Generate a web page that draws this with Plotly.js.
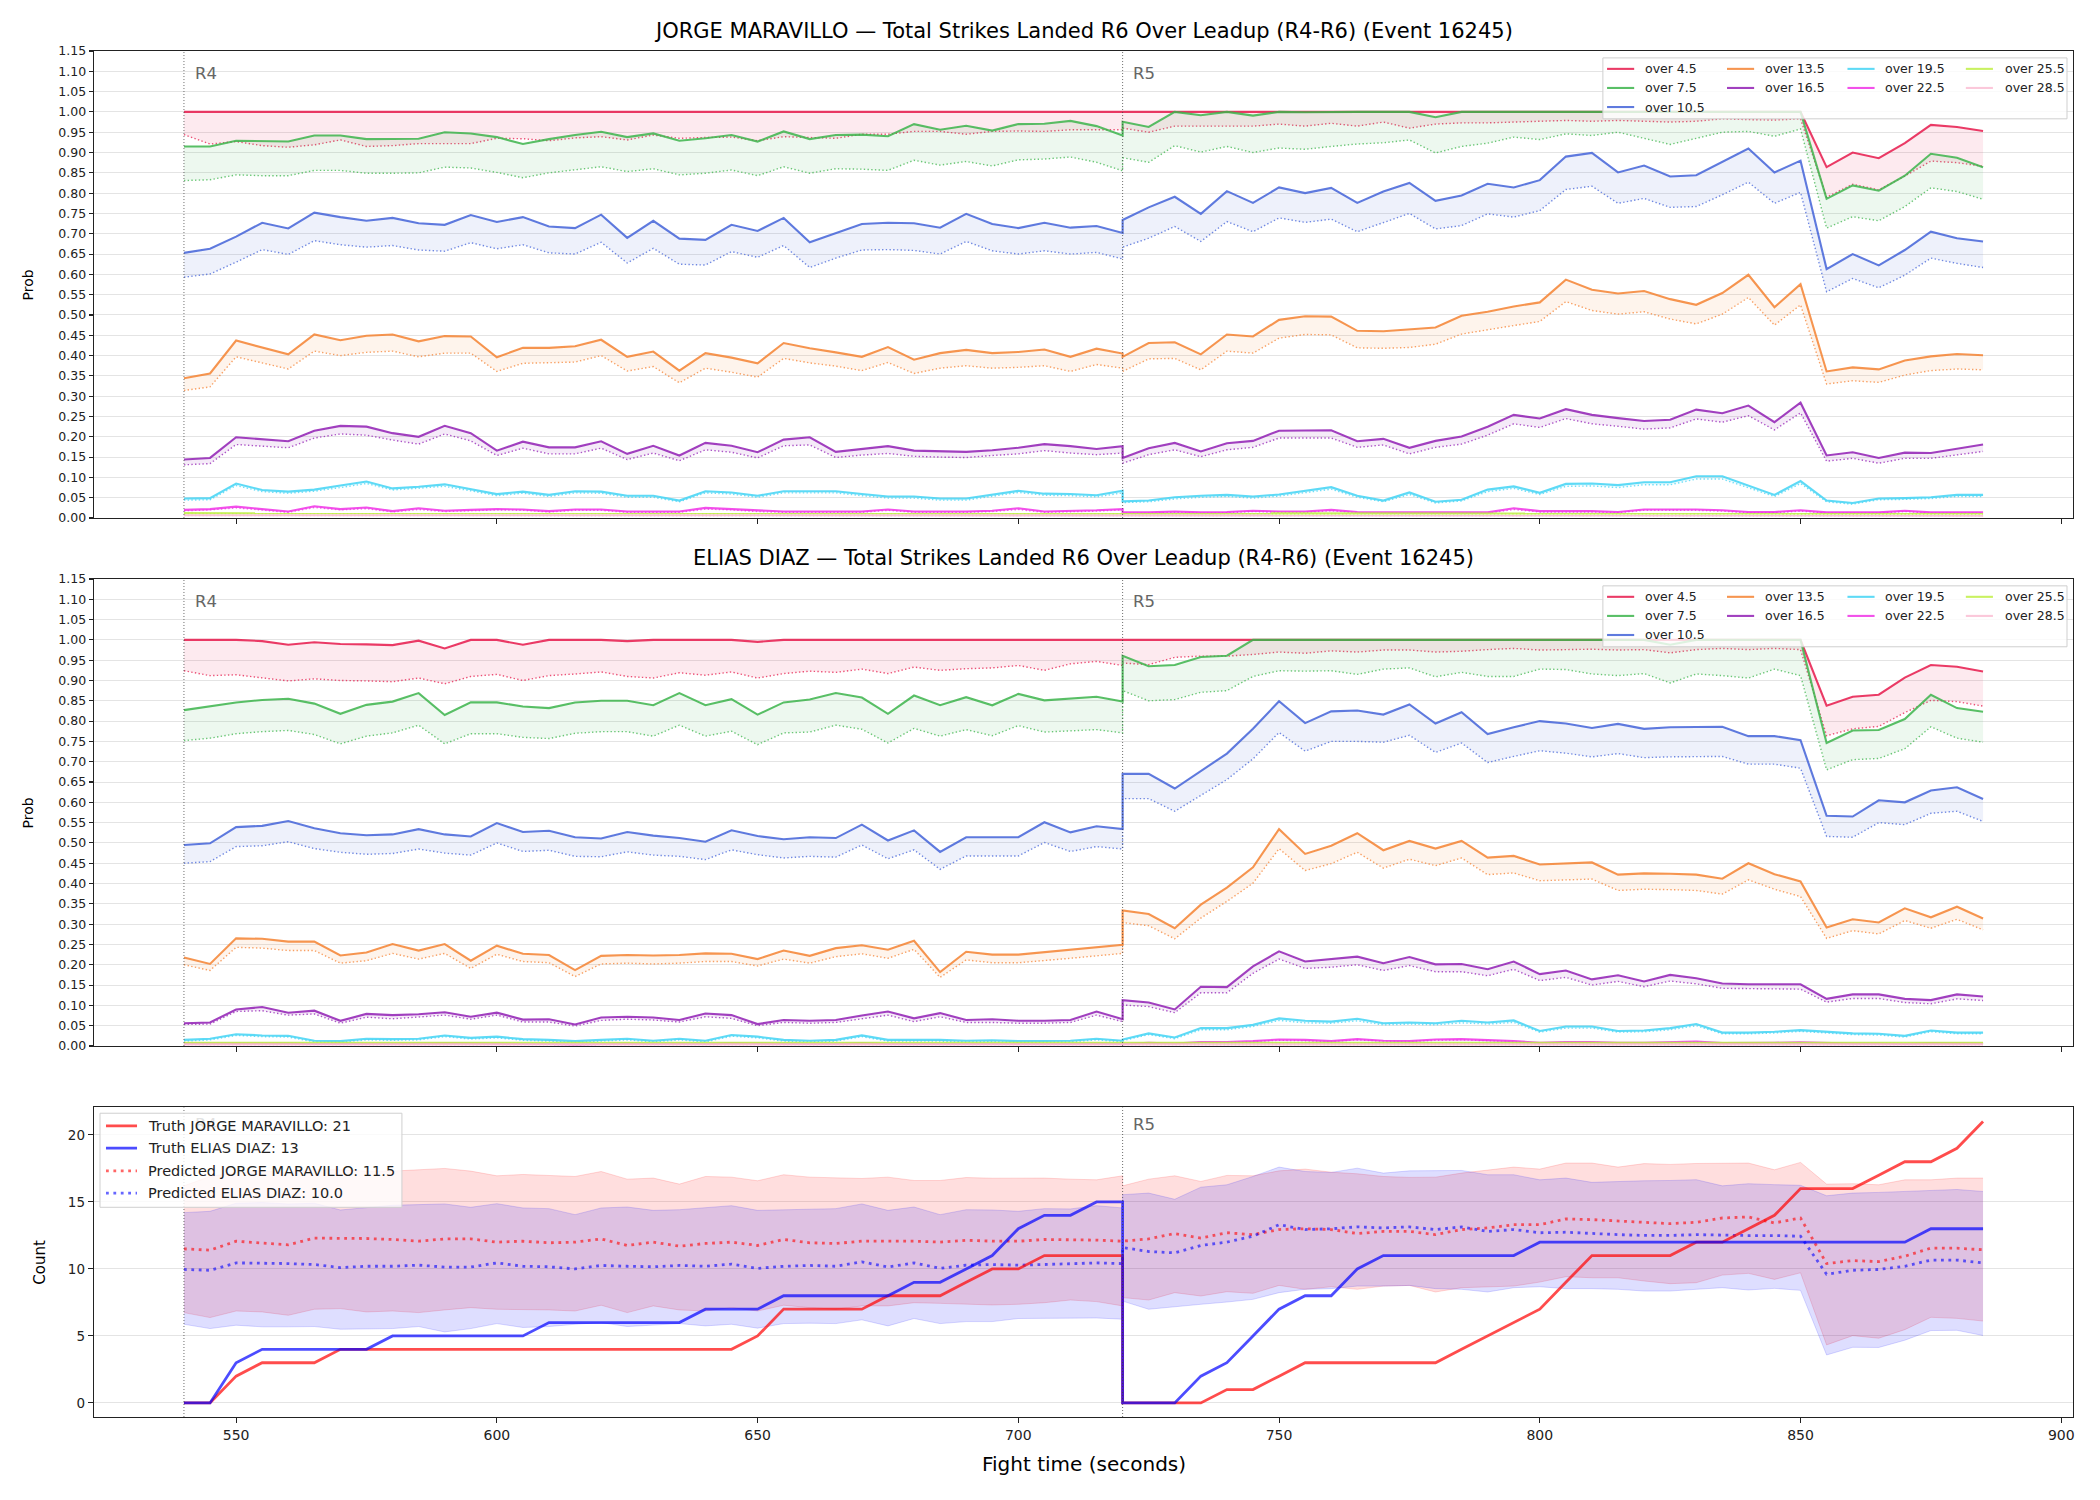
<!DOCTYPE html>
<html>
<head>
<meta charset="utf-8">
<script src="https://cdn.plot.ly/plotly-3.0.1.min.js"></script>
<style>html,body{margin:0;padding:0;background:#fff;}#chart{width:2100px;height:1500px;}</style>
</head>
<body>
<div id="chart"></div>
<script>
// ---------------- DATA ----------------
const times = [540,545,550,555,560,565,570,575,580,585,590,595,600,605,610,615,620,625,630,635,640,645,650,655,660,665,670,675,680,685,690,695,700,705,710,715,720,
  720,725,730,735,740,745,750,755,760,765,770,775,780,785,790,795,800,805,810,815,820,825,830,835,840,845,850,855,860,865,870,875,880,885];
const thresholds = ['over 4.5','over 7.5','over 10.5','over 13.5','over 16.5','over 19.5','over 22.5','over 25.5','over 28.5'];
const probTicks = [0,0.05,0.10,0.15,0.20,0.25,0.30,0.35,0.40,0.45,0.50,0.55,0.60,0.65,0.70,0.75,0.80,0.85,0.90,0.95,1.00,1.05,1.10,1.15];
const timeTicks = [550,600,650,700,750,800,850,900];
const countTicks = [0,5,10,15,20];
const roundMarks = [{t:540,label:'R4'},{t:720,label:'R5'}];

// JORGE MARAVILLO (solid = line, dot = dotted line)
const J_45 = [1,1,1,1,1,1,1,1,1,1,1,1,1,1,1,1,1,1,1,1,1,1,1,1,1,1,1,1,1,1,1,1,1,1,1,1,1,
  1,1,1,1,1,1,1,1,1,1,1,1,1,1,1,1,1,1,1,1,1,1,1,1,1,1,1,0.864,0.900,0.886,0.923,0.968,0.963,0.953];
const J_45_dot = [0.944,0.921,0.927,0.917,0.913,0.919,0.931,0.915,0.917,0.922,0.922,0.922,0.935,0.934,0.929,0.936,0.939,0.931,0.943,0.935,0.937,0.938,0.929,0.939,0.937,0.935,0.945,0.945,0.952,0.952,0.945,0.952,0.953,0.952,0.956,0.956,0.956,
  0.960,0.950,0.965,0.965,0.965,0.965,0.970,0.965,0.972,0.965,0.975,0.960,0.970,0.973,0.973,0.975,0.977,0.979,0.977,0.979,0.977,0.975,0.977,0.983,0.981,0.980,0.983,0.790,0.822,0.808,0.842,0.879,0.875,0.866];
const J_75 = [0.915,0.915,0.929,0.928,0.927,0.942,0.942,0.933,0.933,0.934,0.950,0.947,0.938,0.921,0.933,0.943,0.951,0.938,0.947,0.929,0.935,0.943,0.927,0.952,0.933,0.943,0.944,0.940,0.970,0.956,0.966,0.954,0.970,0.971,0.978,0.965,0.942,
  0.976,0.963,1.0,0.992,1.0,0.991,1.0,0.999,1.0,1.0,1.0,1.0,0.987,1.0,1.0,1.0,1.0,1.0,1.0,1.0,1.0,1.0,1.0,1.0,1.0,1.0,1.0,0.786,0.819,0.806,0.843,0.897,0.887,0.864];
const J_75_dot = [0.831,0.833,0.845,0.843,0.843,0.856,0.856,0.849,0.849,0.850,0.864,0.862,0.851,0.838,0.850,0.857,0.865,0.853,0.860,0.845,0.849,0.857,0.843,0.865,0.849,0.860,0.859,0.856,0.881,0.869,0.878,0.867,0.882,0.884,0.889,0.876,0.855,
  0.887,0.876,0.917,0.901,0.915,0.900,0.911,0.908,0.915,0.921,0.924,0.931,0.899,0.915,0.923,0.938,0.932,0.946,0.942,0.950,0.935,0.920,0.935,0.950,0.952,0.940,0.958,0.714,0.742,0.732,0.767,0.813,0.804,0.785];
const J_105 = [0.653,0.663,0.693,0.727,0.713,0.752,0.741,0.732,0.739,0.726,0.722,0.746,0.729,0.741,0.718,0.714,0.747,0.690,0.732,0.688,0.685,0.722,0.707,0.739,0.679,0.702,0.724,0.727,0.726,0.715,0.749,0.724,0.714,0.727,0.715,0.719,0.702,
  0.734,0.765,0.791,0.749,0.805,0.776,0.814,0.800,0.813,0.776,0.804,0.825,0.781,0.794,0.823,0.814,0.832,0.890,0.899,0.851,0.868,0.841,0.844,0.876,0.910,0.851,0.880,0.613,0.650,0.622,0.660,0.705,0.689,0.681];
const J_105_dot = [0.593,0.601,0.630,0.661,0.649,0.683,0.673,0.667,0.671,0.660,0.657,0.678,0.663,0.673,0.653,0.650,0.679,0.628,0.664,0.625,0.623,0.656,0.642,0.671,0.617,0.640,0.660,0.661,0.659,0.650,0.681,0.658,0.650,0.658,0.650,0.654,0.638,
  0.667,0.689,0.718,0.681,0.730,0.705,0.739,0.728,0.736,0.705,0.727,0.750,0.712,0.720,0.749,0.741,0.757,0.809,0.817,0.775,0.787,0.765,0.767,0.796,0.827,0.775,0.802,0.557,0.590,0.567,0.598,0.640,0.627,0.617];
const J_135 = [0.344,0.356,0.437,0.420,0.403,0.452,0.438,0.449,0.452,0.435,0.448,0.447,0.396,0.419,0.419,0.423,0.439,0.397,0.410,0.363,0.406,0.395,0.381,0.431,0.418,0.408,0.397,0.421,0.390,0.406,0.414,0.406,0.409,0.415,0.397,0.417,0.405,
  0.397,0.431,0.433,0.403,0.452,0.447,0.488,0.497,0.496,0.461,0.460,0.464,0.469,0.498,0.508,0.521,0.531,0.587,0.562,0.553,0.559,0.539,0.525,0.554,0.599,0.519,0.576,0.361,0.371,0.366,0.388,0.398,0.404,0.401];
const J_135_dot = [0.314,0.323,0.397,0.382,0.367,0.411,0.400,0.408,0.411,0.397,0.406,0.406,0.361,0.381,0.382,0.384,0.400,0.362,0.373,0.333,0.369,0.359,0.347,0.393,0.382,0.374,0.363,0.383,0.356,0.369,0.375,0.369,0.371,0.375,0.361,0.378,0.369,
  0.361,0.392,0.393,0.365,0.411,0.406,0.443,0.452,0.451,0.419,0.418,0.420,0.428,0.453,0.464,0.474,0.484,0.533,0.511,0.502,0.508,0.490,0.478,0.502,0.543,0.475,0.525,0.330,0.338,0.334,0.352,0.363,0.367,0.365];
const J_165 = [0.144,0.148,0.199,0.194,0.189,0.215,0.227,0.225,0.209,0.200,0.227,0.209,0.166,0.188,0.174,0.174,0.189,0.158,0.178,0.154,0.185,0.178,0.162,0.193,0.199,0.163,0.170,0.177,0.166,0.164,0.163,0.167,0.173,0.182,0.177,0.170,0.177,
  0.148,0.172,0.185,0.164,0.184,0.190,0.215,0.215,0.216,0.189,0.195,0.173,0.190,0.201,0.225,0.254,0.245,0.268,0.254,0.246,0.239,0.242,0.267,0.258,0.277,0.236,0.284,0.154,0.162,0.148,0.161,0.160,0.170,0.181];
const J_165_dot = [0.131,0.134,0.181,0.177,0.173,0.197,0.207,0.204,0.192,0.182,0.207,0.190,0.154,0.172,0.158,0.158,0.172,0.144,0.160,0.141,0.168,0.162,0.148,0.178,0.180,0.149,0.155,0.159,0.152,0.150,0.149,0.154,0.158,0.166,0.160,0.156,0.160,
  0.135,0.156,0.168,0.151,0.168,0.174,0.197,0.197,0.197,0.174,0.180,0.158,0.174,0.182,0.204,0.232,0.223,0.245,0.232,0.226,0.219,0.222,0.244,0.236,0.252,0.217,0.259,0.140,0.147,0.135,0.147,0.147,0.155,0.164];
const J_195 = [0.048,0.049,0.085,0.069,0.065,0.070,0.080,0.090,0.073,0.077,0.083,0.071,0.059,0.065,0.057,0.066,0.065,0.055,0.055,0.043,0.066,0.063,0.055,0.066,0.066,0.066,0.059,0.053,0.053,0.048,0.048,0.057,0.067,0.060,0.059,0.056,0.067,
  0.041,0.043,0.051,0.055,0.057,0.053,0.058,0.067,0.076,0.055,0.043,0.063,0.040,0.045,0.070,0.078,0.062,0.084,0.085,0.081,0.088,0.088,0.103,0.103,0.080,0.057,0.091,0.043,0.037,0.048,0.049,0.051,0.057,0.057];
const J_195_dot = [0.044,0.045,0.080,0.065,0.061,0.066,0.075,0.085,0.069,0.073,0.078,0.067,0.055,0.061,0.053,0.062,0.061,0.051,0.051,0.040,0.062,0.059,0.051,0.062,0.062,0.062,0.055,0.049,0.049,0.044,0.044,0.053,0.063,0.056,0.055,0.052,0.062,
  0.038,0.040,0.047,0.051,0.053,0.049,0.054,0.062,0.071,0.051,0.040,0.058,0.037,0.042,0.065,0.073,0.058,0.078,0.079,0.075,0.082,0.082,0.096,0.096,0.075,0.053,0.085,0.040,0.034,0.045,0.046,0.048,0.053,0.053];
const J_225 = [0.020,0.022,0.028,0.022,0.016,0.029,0.022,0.026,0.017,0.024,0.018,0.020,0.022,0.021,0.017,0.021,0.021,0.016,0.016,0.016,0.025,0.022,0.018,0.016,0.016,0.016,0.016,0.021,0.016,0.016,0.016,0.018,0.024,0.016,0.017,0.019,0.022,
  0.014,0.014,0.016,0.014,0.015,0.018,0.016,0.016,0.020,0.015,0.014,0.014,0.014,0.014,0.014,0.024,0.017,0.017,0.017,0.015,0.021,0.021,0.021,0.019,0.015,0.015,0.019,0.014,0.014,0.014,0.018,0.014,0.014,0.014];
const J_225_dot = [0.018,0.020,0.025,0.020,0.014,0.026,0.020,0.023,0.015,0.021,0.016,0.018,0.020,0.019,0.015,0.019,0.019,0.014,0.014,0.014,0.022,0.020,0.016,0.014,0.014,0.014,0.014,0.019,0.014,0.014,0.014,0.016,0.021,0.014,0.015,0.017,0.020,
  0.012,0.012,0.014,0.012,0.013,0.016,0.014,0.014,0.018,0.013,0.012,0.012,0.012,0.012,0.012,0.021,0.015,0.015,0.015,0.013,0.019,0.019,0.019,0.017,0.013,0.013,0.017,0.012,0.012,0.012,0.016,0.012,0.012,0.012];
const J_255 = [0.012,0.012,0.012,0.012,0.012,0.012,0.012,0.012,0.012,0.012,0.012,0.012,0.012,0.012,0.012,0.012,0.012,0.012,0.012,0.012,0.012,0.012,0.012,0.012,0.012,0.012,0.012,0.012,0.012,0.012,0.012,0.012,0.012,0.012,0.012,0.012,0.012,
  0.011,0.011,0.011,0.011,0.011,0.011,0.011,0.011,0.011,0.011,0.011,0.011,0.011,0.011,0.011,0.011,0.011,0.011,0.011,0.011,0.011,0.011,0.011,0.011,0.011,0.011,0.011,0.011,0.011,0.011,0.011,0.011,0.011,0.011];
const J_255_dot = [0.011,0.011,0.011,0.011,0.011,0.011,0.011,0.011,0.011,0.011,0.011,0.011,0.011,0.011,0.011,0.011,0.011,0.011,0.011,0.011,0.011,0.011,0.011,0.011,0.011,0.011,0.011,0.011,0.011,0.011,0.011,0.011,0.011,0.011,0.011,0.011,0.011,
  0.010,0.010,0.010,0.010,0.010,0.010,0.010,0.010,0.010,0.010,0.010,0.010,0.010,0.010,0.010,0.010,0.010,0.010,0.010,0.010,0.010,0.010,0.010,0.010,0.010,0.010,0.010,0.010,0.010,0.010,0.010,0.010,0.010,0.010];
const J_285 = [0.007,0.007,0.007,0.007,0.007,0.007,0.007,0.007,0.007,0.007,0.007,0.007,0.007,0.007,0.007,0.007,0.007,0.007,0.007,0.007,0.007,0.007,0.007,0.007,0.007,0.007,0.007,0.007,0.007,0.007,0.007,0.007,0.007,0.007,0.007,0.007,0.007,
  0.006,0.006,0.006,0.006,0.006,0.006,0.006,0.006,0.006,0.006,0.006,0.006,0.006,0.006,0.006,0.006,0.006,0.006,0.006,0.006,0.006,0.006,0.006,0.006,0.006,0.006,0.006,0.006,0.006,0.006,0.006,0.006,0.006,0.006];
const J_285_dot = [0.006,0.006,0.006,0.006,0.006,0.006,0.006,0.006,0.006,0.006,0.006,0.006,0.006,0.006,0.006,0.006,0.006,0.006,0.006,0.006,0.006,0.006,0.006,0.006,0.006,0.006,0.006,0.006,0.006,0.006,0.006,0.006,0.006,0.006,0.006,0.006,0.006,
  0.005,0.005,0.005,0.005,0.005,0.005,0.005,0.005,0.005,0.005,0.005,0.005,0.005,0.005,0.005,0.005,0.005,0.005,0.005,0.005,0.005,0.005,0.005,0.005,0.005,0.005,0.005,0.005,0.005,0.005,0.005,0.005,0.005,0.005];

// ELIAS DIAZ
const E_45 = [1.0,1.0,1.0,0.997,0.988,0.994,0.990,0.989,0.987,0.998,0.979,1.0,1.0,0.988,1.0,1.0,1.0,0.997,1.0,1.0,1.0,1.0,0.995,1.0,1.0,1.0,1.0,1.0,1.0,1.0,1.0,1.0,1.0,1.0,1.0,1.0,1.0,
  1,1,1,1,1,1,1,1,1,1,1,1,1,1,1,1,1,1,1,1,1,1,1,1,1,1,1,0.838,0.860,0.865,0.907,0.938,0.934,0.922];
const E_45_dot = [0.924,0.912,0.914,0.906,0.899,0.904,0.900,0.899,0.897,0.906,0.892,0.910,0.915,0.900,0.912,0.916,0.921,0.910,0.906,0.919,0.913,0.921,0.906,0.917,0.923,0.920,0.928,0.917,0.933,0.925,0.929,0.931,0.937,0.925,0.941,0.947,0.937,
  0.943,0.939,0.957,0.960,0.960,0.964,0.970,0.967,0.973,0.970,0.975,0.975,0.970,0.972,0.976,0.979,0.975,0.976,0.977,0.975,0.976,0.968,0.976,0.979,0.976,0.979,0.976,0.764,0.781,0.787,0.821,0.851,0.848,0.837];
const E_75 = [0.827,0.836,0.846,0.852,0.855,0.843,0.818,0.840,0.848,0.869,0.815,0.846,0.846,0.836,0.832,0.846,0.850,0.850,0.839,0.869,0.839,0.854,0.816,0.846,0.853,0.869,0.858,0.818,0.863,0.839,0.859,0.839,0.867,0.851,0.855,0.860,0.848,
  0.961,0.935,0.938,0.958,0.961,1.0,1.0,1.0,1.0,1.0,1.0,1.0,1.0,1.0,1.0,1.0,1.0,1.0,1.0,1.0,1.0,0.988,1.0,1.0,1.0,1.0,1.0,0.746,0.777,0.778,0.805,0.865,0.832,0.823];
const E_75_dot = [0.752,0.758,0.769,0.774,0.777,0.767,0.744,0.763,0.771,0.790,0.744,0.769,0.769,0.760,0.757,0.770,0.774,0.774,0.763,0.790,0.763,0.775,0.742,0.771,0.773,0.790,0.780,0.746,0.782,0.763,0.779,0.764,0.789,0.773,0.776,0.779,0.771,
  0.875,0.850,0.853,0.871,0.875,0.910,0.924,0.923,0.924,0.915,0.928,0.931,0.909,0.920,0.910,0.910,0.928,0.927,0.916,0.912,0.917,0.894,0.916,0.912,0.906,0.928,0.912,0.680,0.705,0.708,0.732,0.786,0.758,0.748];
const E_105 = [0.495,0.499,0.539,0.542,0.554,0.536,0.524,0.519,0.521,0.534,0.521,0.516,0.549,0.527,0.530,0.514,0.511,0.527,0.518,0.512,0.503,0.531,0.517,0.509,0.514,0.512,0.545,0.506,0.531,0.478,0.514,0.514,0.514,0.551,0.526,0.541,0.534,
  0.670,0.670,0.634,0.678,0.720,0.781,0.849,0.795,0.824,0.826,0.816,0.841,0.794,0.822,0.768,0.785,0.800,0.794,0.783,0.793,0.781,0.785,0.785,0.786,0.763,0.763,0.753,0.567,0.565,0.605,0.600,0.629,0.637,0.608];
const E_105_dot = [0.450,0.454,0.491,0.493,0.503,0.486,0.477,0.472,0.474,0.485,0.475,0.470,0.500,0.479,0.482,0.467,0.466,0.478,0.470,0.467,0.459,0.483,0.471,0.463,0.467,0.465,0.495,0.461,0.483,0.435,0.468,0.468,0.468,0.501,0.479,0.491,0.485,
  0.609,0.609,0.578,0.616,0.656,0.707,0.772,0.726,0.750,0.750,0.748,0.765,0.723,0.746,0.698,0.713,0.727,0.721,0.712,0.720,0.710,0.712,0.713,0.713,0.694,0.694,0.684,0.516,0.514,0.550,0.545,0.573,0.578,0.553];
const E_135 = [0.218,0.202,0.265,0.264,0.257,0.257,0.223,0.230,0.251,0.235,0.251,0.210,0.247,0.227,0.224,0.187,0.222,0.224,0.223,0.224,0.228,0.227,0.214,0.235,0.222,0.241,0.248,0.237,0.259,0.182,0.232,0.225,0.225,0.231,0.237,0.243,0.249,
  0.334,0.325,0.290,0.348,0.390,0.440,0.534,0.473,0.493,0.524,0.482,0.505,0.486,0.505,0.464,0.468,0.447,0.449,0.452,0.422,0.425,0.424,0.422,0.412,0.450,0.423,0.405,0.292,0.312,0.304,0.339,0.317,0.343,0.314];
const E_135_dot = [0.200,0.186,0.243,0.241,0.235,0.235,0.204,0.210,0.228,0.214,0.228,0.191,0.226,0.208,0.205,0.171,0.202,0.204,0.202,0.204,0.208,0.208,0.197,0.214,0.204,0.220,0.227,0.216,0.238,0.169,0.212,0.205,0.205,0.210,0.216,0.222,0.228,
  0.304,0.296,0.264,0.315,0.356,0.401,0.486,0.432,0.449,0.477,0.438,0.460,0.444,0.463,0.422,0.426,0.407,0.409,0.411,0.383,0.386,0.385,0.383,0.374,0.409,0.386,0.368,0.265,0.284,0.276,0.309,0.290,0.312,0.286];
const E_165 = [0.056,0.058,0.090,0.096,0.082,0.087,0.062,0.079,0.076,0.078,0.083,0.072,0.082,0.065,0.066,0.053,0.070,0.072,0.070,0.064,0.080,0.076,0.054,0.064,0.062,0.064,0.075,0.085,0.068,0.081,0.064,0.066,0.062,0.062,0.064,0.085,0.066,
  0.113,0.107,0.090,0.146,0.145,0.196,0.233,0.208,0.214,0.220,0.204,0.219,0.201,0.202,0.189,0.208,0.177,0.186,0.164,0.174,0.159,0.175,0.167,0.154,0.152,0.152,0.152,0.116,0.127,0.127,0.116,0.113,0.127,0.122];
const E_165_dot = [0.053,0.054,0.085,0.087,0.076,0.079,0.056,0.071,0.067,0.071,0.076,0.066,0.076,0.059,0.059,0.049,0.063,0.066,0.064,0.059,0.072,0.068,0.050,0.058,0.056,0.058,0.067,0.076,0.060,0.072,0.058,0.058,0.056,0.056,0.058,0.076,0.060,
  0.101,0.097,0.082,0.131,0.131,0.179,0.214,0.191,0.194,0.200,0.186,0.198,0.183,0.183,0.173,0.189,0.161,0.169,0.150,0.159,0.146,0.160,0.153,0.142,0.141,0.141,0.140,0.108,0.117,0.117,0.107,0.104,0.116,0.112];
const E_195 = [0.015,0.018,0.029,0.026,0.025,0.013,0.012,0.018,0.017,0.018,0.026,0.020,0.023,0.017,0.015,0.012,0.015,0.018,0.013,0.018,0.013,0.027,0.023,0.015,0.013,0.015,0.026,0.015,0.015,0.015,0.013,0.014,0.012,0.012,0.013,0.018,0.013,
  0.016,0.031,0.021,0.044,0.044,0.052,0.068,0.062,0.060,0.067,0.056,0.058,0.056,0.062,0.058,0.063,0.037,0.048,0.048,0.037,0.038,0.044,0.054,0.033,0.033,0.035,0.039,0.035,0.031,0.030,0.025,0.038,0.033,0.033];
const E_195_dot = [0.012,0.015,0.026,0.023,0.022,0.010,0.009,0.015,0.014,0.015,0.023,0.017,0.020,0.014,0.012,0.009,0.012,0.015,0.010,0.015,0.010,0.024,0.020,0.012,0.010,0.012,0.023,0.012,0.012,0.012,0.010,0.011,0.009,0.009,0.010,0.015,0.010,
  0.013,0.028,0.018,0.040,0.040,0.048,0.063,0.057,0.056,0.062,0.052,0.054,0.052,0.057,0.054,0.058,0.034,0.044,0.044,0.034,0.035,0.040,0.050,0.030,0.030,0.032,0.036,0.032,0.028,0.027,0.022,0.035,0.030,0.030];
const E_225 = [0.006,0.006,0.007,0.007,0.006,0.005,0.005,0.006,0.006,0.006,0.007,0.006,0.006,0.005,0.005,0.004,0.005,0.006,0.005,0.006,0.005,0.007,0.006,0.005,0.005,0.005,0.007,0.005,0.005,0.005,0.005,0.005,0.004,0.004,0.005,0.006,0.005,
  0.005,0.008,0.006,0.010,0.010,0.012,0.016,0.015,0.012,0.017,0.013,0.012,0.016,0.017,0.015,0.012,0.008,0.010,0.010,0.008,0.008,0.010,0.011,0.007,0.007,0.008,0.009,0.007,0.006,0.006,0.005,0.007,0.006,0.006];
const E_225_dot = [0.005,0.005,0.006,0.006,0.005,0.004,0.004,0.005,0.005,0.005,0.006,0.005,0.005,0.004,0.004,0.003,0.004,0.005,0.004,0.005,0.004,0.006,0.005,0.004,0.004,0.004,0.006,0.004,0.004,0.004,0.004,0.004,0.003,0.003,0.004,0.005,0.004,
  0.004,0.007,0.005,0.009,0.009,0.011,0.014,0.013,0.011,0.015,0.012,0.011,0.014,0.015,0.013,0.011,0.007,0.009,0.009,0.007,0.007,0.009,0.010,0.006,0.006,0.007,0.008,0.006,0.005,0.005,0.004,0.006,0.005,0.005];
const E_255 = [0.008,0.008,0.008,0.008,0.008,0.008,0.008,0.008,0.008,0.008,0.008,0.008,0.008,0.008,0.008,0.008,0.008,0.008,0.008,0.008,0.008,0.008,0.008,0.008,0.008,0.008,0.008,0.008,0.008,0.008,0.008,0.008,0.008,0.008,0.008,0.008,0.008,
  0.008,0.008,0.008,0.008,0.008,0.008,0.008,0.008,0.008,0.008,0.008,0.008,0.008,0.008,0.008,0.008,0.008,0.008,0.008,0.008,0.008,0.008,0.008,0.008,0.008,0.008,0.008,0.008,0.008,0.008,0.008,0.008,0.008,0.008];
const E_255_dot = [0.007,0.007,0.007,0.007,0.007,0.007,0.007,0.007,0.007,0.007,0.007,0.007,0.007,0.007,0.007,0.007,0.007,0.007,0.007,0.007,0.007,0.007,0.007,0.007,0.007,0.007,0.007,0.007,0.007,0.007,0.007,0.007,0.007,0.007,0.007,0.007,0.007,
  0.007,0.007,0.007,0.007,0.007,0.007,0.007,0.007,0.007,0.007,0.007,0.007,0.007,0.007,0.007,0.007,0.007,0.007,0.007,0.007,0.007,0.007,0.007,0.007,0.007,0.007,0.007,0.007,0.007,0.007,0.007,0.007,0.007,0.007];
const E_285 = [0.004,0.004,0.004,0.004,0.004,0.004,0.004,0.004,0.004,0.004,0.004,0.004,0.004,0.004,0.004,0.004,0.004,0.004,0.004,0.004,0.004,0.004,0.004,0.004,0.004,0.004,0.004,0.004,0.004,0.004,0.004,0.004,0.004,0.004,0.004,0.004,0.004,
  0.004,0.004,0.004,0.004,0.004,0.004,0.004,0.004,0.004,0.004,0.004,0.004,0.004,0.004,0.004,0.004,0.004,0.004,0.004,0.004,0.004,0.004,0.004,0.004,0.004,0.004,0.004,0.004,0.004,0.004,0.004,0.004,0.004,0.004];
const E_285_dot = [0.003,0.003,0.003,0.003,0.003,0.003,0.003,0.003,0.003,0.003,0.003,0.003,0.003,0.003,0.003,0.003,0.003,0.003,0.003,0.003,0.003,0.003,0.003,0.003,0.003,0.003,0.003,0.003,0.003,0.003,0.003,0.003,0.003,0.003,0.003,0.003,0.003,
  0.003,0.003,0.003,0.003,0.003,0.003,0.003,0.003,0.003,0.003,0.003,0.003,0.003,0.003,0.003,0.003,0.003,0.003,0.003,0.003,0.003,0.003,0.003,0.003,0.003,0.003,0.003,0.003,0.003,0.003,0.003,0.003,0.003,0.003];

// Count panel
const truthJorge = [0,0,2,3,3,3,4,4,4,4,4,4,4,4,4,4,4,4,4,4,4,4,5,7,7,7,7,8,8,8,9,10,10,11,11,11,11,
  0,0,0,0,1,1,2,3,3,3,3,3,3,4,5,6,7,9,11,11,11,11,12,12,13,14,16,16,16,17,18,18,19,21];
const truthElias = [0,0,3,4,4,4,4,4,5,5,5,5,5,5,6,6,6,6,6,6,7,7,7,8,8,8,8,8,9,9,10,11,13,14,14,15,15,
  0,0,0,2,3,5,7,8,8,10,11,11,11,11,11,11,12,12,12,12,12,12,12,12,12,12,12,12,12,12,12,13,13,13];
const predJorge = [11.5,11.4,12.07,11.95,11.8,12.3,12.3,12.27,12.2,12.07,12.24,12.24,12.0,12.07,11.95,12.0,12.24,11.75,12.0,11.7,11.9,12.0,11.75,12.2,11.95,11.9,12.07,12.07,12.07,12.0,12.14,12.07,12.07,12.2,12.2,12.15,12.07,
  12.07,12.24,12.64,12.3,12.7,12.56,12.94,13.0,12.94,12.64,12.8,12.8,12.56,12.94,13.06,13.3,13.3,13.73,13.68,13.56,13.48,13.38,13.48,13.8,13.88,13.43,13.8,10.4,10.62,10.55,10.95,11.55,11.55,11.43];
const predElias = [9.96,9.9,10.45,10.45,10.4,10.33,10.1,10.2,10.2,10.28,10.14,10.14,10.45,10.2,10.16,10.0,10.26,10.2,10.16,10.26,10.2,10.36,10.04,10.2,10.26,10.2,10.53,10.14,10.45,10.04,10.28,10.33,10.28,10.33,10.4,10.45,10.4,
  11.6,11.3,11.2,11.75,12.0,12.44,13.3,12.94,13.0,13.14,13.06,13.14,12.94,13.14,12.8,12.94,12.7,12.74,12.64,12.56,12.5,12.5,12.56,12.5,12.49,12.49,12.44,9.6,9.9,9.96,10.2,10.66,10.66,10.45];
const bandJorgeHi = [16.2,16.9,17.2,17.3,17.2,17.4,17.4,17.3,17.3,17.4,17.5,17.3,16.95,17.05,16.95,16.9,17.27,16.7,16.78,16.33,16.9,16.85,16.58,17.03,16.85,16.8,16.75,16.85,16.6,16.6,16.82,16.77,16.78,16.78,16.7,16.65,16.95,
  16.2,16.7,16.95,16.53,16.98,16.95,17.32,17.45,17.22,17.1,16.9,16.83,16.85,17.15,17.4,17.6,17.45,17.9,17.9,17.6,17.86,17.8,17.87,17.9,17.9,17.4,17.95,16.33,16.36,16.28,16.65,16.65,16.78,16.78];
const bandJorgeLo = [6.74,6.37,6.86,6.79,6.54,6.99,7.04,6.79,6.86,6.74,6.94,7.11,6.99,6.99,6.94,6.86,7.29,6.74,7.24,6.94,6.86,7.11,6.86,7.29,7.11,6.99,7.24,7.24,7.48,7.43,7.36,7.31,7.36,7.48,7.68,7.56,7.24,
  7.86,7.68,8.23,7.98,8.3,8.18,8.77,8.48,8.67,8.48,8.72,8.77,8.28,8.6,8.67,8.72,9.02,9.42,9.34,9.34,9.1,8.9,8.97,9.54,9.67,9.22,9.71,4.33,5.02,4.83,5.47,6.39,6.31,6.11];
const bandEliasHi = [14.2,14.3,14.9,14.95,14.85,14.9,14.4,14.6,14.75,14.8,14.85,14.6,14.87,14.55,14.5,14.05,14.55,14.62,14.37,14.42,14.55,14.72,14.37,14.42,14.42,14.5,14.85,14.37,14.62,14.05,14.42,14.4,14.3,14.5,14.48,14.72,14.55,
  15.54,15.66,15.2,16.1,16.28,16.9,17.6,17.27,17.2,17.52,17.15,17.32,17.32,17.35,17.03,17.03,16.65,16.78,16.46,16.53,16.58,16.6,16.66,16.2,16.36,16.29,16.24,15.46,15.66,15.71,15.8,15.85,15.93,15.78];
const bandEliasLo = [5.87,5.55,5.8,5.68,5.68,5.7,5.5,5.5,5.55,5.7,5.3,5.55,5.92,5.63,5.7,5.87,6.0,5.7,5.8,5.92,5.75,5.87,5.58,5.92,5.95,5.92,6.2,5.75,6.3,5.92,6.07,6.07,6.3,6.3,6.34,6.34,6.25,
  7.6,6.99,7.19,7.36,7.53,7.73,8.23,8.48,8.53,8.72,8.72,8.77,8.53,8.48,8.28,8.6,8.67,8.53,8.53,8.48,8.35,8.35,8.48,8.6,8.43,8.55,8.4,3.58,4.15,4.14,4.68,5.4,5.42,5.03];

const legendLabels = ['Truth JORGE MARAVILLO: 21','Truth ELIAS DIAZ: 13','Predicted JORGE MARAVILLO: 11.5','Predicted ELIAS DIAZ: 10.0'];
const titleJorge = 'JORGE MARAVILLO — Total Strikes Landed R6 Over Leadup (R4-R6) (Event 16245)';
const titleElias = 'ELIAS DIAZ — Total Strikes Landed R6 Over Leadup (R4-R6) (Event 16245)';

// ---------------- DRAWING ----------------
const lineColors = ['#e6194b','#3cb44b','#4363d8','#f58231','#911eb4','#42d4f4','#f032e6','#bfef45','#fabed4'];
function rgba(hex, a){
  const n = parseInt(hex.slice(1),16);
  return 'rgba(' + ((n>>16)&255) + ',' + ((n>>8)&255) + ',' + (n&255) + ',' + a + ')';
}
const jorgeSolid = [J_45,J_75,J_105,J_135,J_165,J_195,J_225,J_255,J_285];
const jorgeDot = [J_45_dot,J_75_dot,J_105_dot,J_135_dot,J_165_dot,J_195_dot,J_225_dot,J_255_dot,J_285_dot];
const eliasSolid = [E_45,E_75,E_105,E_135,E_165,E_195,E_225,E_255,E_285];
const eliasDot = [E_45_dot,E_75_dot,E_105_dot,E_135_dot,E_165_dot,E_195_dot,E_225_dot,E_255_dot,E_285_dot];

const traces = [];
function addProbPanel(solids, dots, xa, ya){
  for(let i=0;i<thresholds.length;i++){
    const c = lineColors[i];
    traces.push({x: times, y: dots[i], xaxis: xa, yaxis: ya, mode: 'lines', showlegend: false, hoverinfo: 'skip',
      line: {color: rgba(c,0.75), width: 1.4, dash: '1.4px,2.3px'}});
    traces.push({x: times, y: solids[i], xaxis: xa, yaxis: ya, mode: 'lines', showlegend: false, name: thresholds[i],
      fill: 'tonexty', fillcolor: rgba(c,0.09), line: {color: rgba(c,0.85), width: 2.1}});
  }
}
addProbPanel(jorgeSolid, jorgeDot, 'x', 'y');
addProbPanel(eliasSolid, eliasDot, 'x2', 'y2');

// count panel
traces.push({x: times, y: bandJorgeLo, xaxis:'x3', yaxis:'y3', mode:'lines', showlegend:false, hoverinfo:'skip', line:{color:'rgba(255,0,0,0.15)', width:1}});
traces.push({x: times, y: bandJorgeHi, xaxis:'x3', yaxis:'y3', mode:'lines', showlegend:false, hoverinfo:'skip', fill:'tonexty', fillcolor:'rgba(255,0,0,0.13)', line:{color:'rgba(255,0,0,0.15)', width:1}});
traces.push({x: times, y: bandEliasLo, xaxis:'x3', yaxis:'y3', mode:'lines', showlegend:false, hoverinfo:'skip', line:{color:'rgba(0,0,255,0.15)', width:1}});
traces.push({x: times, y: bandEliasHi, xaxis:'x3', yaxis:'y3', mode:'lines', showlegend:false, hoverinfo:'skip', fill:'tonexty', fillcolor:'rgba(0,0,255,0.13)', line:{color:'rgba(0,0,255,0.15)', width:1}});
traces.push({x: times, y: predJorge, xaxis:'x3', yaxis:'y3', mode:'lines', showlegend:false, line:{color:'rgba(255,0,0,0.6)', width:2.8, dash:'2.8px,4.6px'}});
traces.push({x: times, y: predElias, xaxis:'x3', yaxis:'y3', mode:'lines', showlegend:false, line:{color:'rgba(0,0,255,0.6)', width:2.8, dash:'2.8px,4.6px'}});
traces.push({x: times, y: truthJorge, xaxis:'x3', yaxis:'y3', mode:'lines', showlegend:false, line:{color:'rgba(255,0,0,0.7)', width:2.8}});
traces.push({x: times, y: truthElias, xaxis:'x3', yaxis:'y3', mode:'lines', showlegend:false, line:{color:'rgba(0,0,255,0.7)', width:2.8}});

const FONT = 'DejaVu Sans, sans-serif';
const shapes = [];
const annotations = [];

// round separators
[['x','y'],['x2','y2'],['x3','y3']].forEach(function(ax){
  roundMarks.forEach(function(r){
    shapes.push({type:'line', xref: ax[0], yref: ax[1]+' domain', x0:r.t, x1:r.t, y0:0, y1:1, layer:'above',
      line:{color:'rgba(60,60,60,0.75)', width:1, dash:'1px,2px'}});
  });
});
// round labels
[['x','y',1.094],['x2','y2',1.094]].forEach(function(ax){
  roundMarks.forEach(function(r){
    annotations.push({xref:ax[0], yref:ax[1], x:r.t+1.7, y:ax[2], text:r.label, showarrow:false, xanchor:'left', yanchor:'middle',
      font:{family:FONT, size:16.5, color:'#666'}});
  });
});
annotations.push({xref:'x3', yref:'y3', x:720+1.7, y:20.8, text:'R5', showarrow:false, xanchor:'left', yanchor:'middle', font:{family:FONT, size:16.5, color:'#666'}});
annotations.push({xref:'x3', yref:'y3', x:540+1.7, y:20.8, text:'R4', showarrow:false, xanchor:'left', yanchor:'middle', font:{family:FONT, size:16.5, color:'rgba(102,102,102,0.2)'}});

// threshold legends (4 columns, filled column-wise)
const legCols = [[0,1,2],[3,4],[5,6],[7,8]];
const legColX = [[812.9,818.1,819.8],[835.9,841.1,842.8],[859.0,864.2,865.8],[881.7,886.9,888.8]];
const legRowY = [1.106,1.059,1.012];
[['x','y'],['x2','y2']].forEach(function(ax){
  shapes.push({type:'rect', xref:ax[0], yref:ax[1], x0:812.1, x1:901.1, y0:0.983, y1:1.133, layer:'above',
    fillcolor:'rgba(255,255,255,0.8)', line:{color:'#cfcfcf', width:1}});
  legCols.forEach(function(col, ci){
    col.forEach(function(ti, ri){
      shapes.push({type:'line', xref:ax[0], yref:ax[1], x0:legColX[ci][0], x1:legColX[ci][1], y0:legRowY[ri], y1:legRowY[ri], layer:'above',
        line:{color: rgba(lineColors[ti],0.85), width:2.1}});
      annotations.push({xref:ax[0], yref:ax[1], x:legColX[ci][2], y:legRowY[ri], text:thresholds[ti], showarrow:false, xanchor:'left', yanchor:'middle',
        font:{family:FONT, size:12.5, color:'#222'}});
    });
  });
});

// count legend
shapes.push({type:'rect', xref:'x3', yref:'y3', x0:523.9, x1:581.8, y0:14.6, y1:21.62, layer:'above',
  fillcolor:'rgba(255,255,255,0.8)', line:{color:'#cfcfcf', width:1}});
const cntLegStyle = [
  {color:'rgba(255,0,0,0.7)', dash:'solid'},
  {color:'rgba(0,0,255,0.7)', dash:'solid'},
  {color:'rgba(255,0,0,0.6)', dash:'2.8px,4.6px'},
  {color:'rgba(0,0,255,0.6)', dash:'2.8px,4.6px'}];
const cntRowY = [20.67,19.01,17.32,15.65];
legendLabels.forEach(function(lbl, i){
  shapes.push({type:'line', xref:'x3', yref:'y3', x0:525.05, x1:531.0, y0:cntRowY[i], y1:cntRowY[i], layer:'above',
    line:{color:cntLegStyle[i].color, width:2.8, dash:cntLegStyle[i].dash}});
  annotations.push({xref:'x3', yref:'y3', x:532.7, y:cntRowY[i], text:lbl, showarrow:false, xanchor:'left', yanchor:'middle',
    font:{family:FONT, size:14.5, color:'#222'}});
});

// titles and axis labels
annotations.push({xref:'paper', yref:'paper', x:0.5, y:1.0146, text:titleJorge, showarrow:false, xanchor:'center', yanchor:'middle', font:{family:FONT, size:21, color:'#000'}});
annotations.push({xref:'paper', yref:'paper', x:0.5, y:0.6288, text:titleElias, showarrow:false, xanchor:'center', yanchor:'middle', font:{family:FONT, size:21, color:'#000'}});
annotations.push({xref:'paper', yref:'paper', x:-0.0334, y:0.829, text:'Prob', textangle:-90, showarrow:false, xanchor:'center', yanchor:'middle', font:{family:FONT, size:14, color:'#000'}});
annotations.push({xref:'paper', yref:'paper', x:-0.0334, y:0.4425, text:'Prob', textangle:-90, showarrow:false, xanchor:'center', yanchor:'middle', font:{family:FONT, size:14, color:'#000'}});
annotations.push({xref:'paper', yref:'paper', x:-0.0270, y:0.1134, text:'Count', textangle:-90, showarrow:false, xanchor:'center', yanchor:'middle', font:{family:FONT, size:15, color:'#000'}});
annotations.push({xref:'paper', yref:'paper', x:0.5, y:-0.0344, text:'Fight time (seconds)', showarrow:false, xanchor:'center', yanchor:'middle', font:{family:FONT, size:20, color:'#000'}});

const xBase = {range:[522.75,902.25], tickvals: timeTicks, ticks:'outside', ticklen:5, tickwidth:1.1, tickcolor:'#222',
  showline:true, mirror:true, linecolor:'#222', linewidth:1.3, showgrid:false, zeroline:false,
  tickfont:{family:FONT, size:14, color:'#222'}};
const yProb = {range:[0,1.15], tickvals: probTicks, tickformat:'.2f', ticks:'outside', ticklen:4, tickwidth:1.1, tickcolor:'#222',
  showline:true, mirror:true, linecolor:'#222', linewidth:1.3, showgrid:true, gridcolor:'#e4e4e4', gridwidth:1, zeroline:false,
  tickfont:{family:FONT, size:12.5, color:'#222'}};

const layout = {
  width:2100, height:1500, paper_bgcolor:'#fff', plot_bgcolor:'#fff',
  margin:{l:94, r:27, t:51, b:83},
  font:{family:FONT, color:'#222'},
  showlegend:false,
  xaxis: Object.assign({}, xBase, {domain:[0,1], anchor:'y', showticklabels:false}),
  yaxis: Object.assign({}, yProb, {domain:[0.6581,1], anchor:'x'}),
  xaxis2: Object.assign({}, xBase, {domain:[0,1], anchor:'y2', showticklabels:false}),
  yaxis2: Object.assign({}, yProb, {domain:[0.2716,0.6135], anchor:'x2'}),
  xaxis3: Object.assign({}, xBase, {domain:[0,1], anchor:'y3', showticklabels:true}),
  yaxis3: {domain:[0,0.2266], anchor:'x3', range:[-1.05,22.05], tickvals: countTicks, ticks:'outside', ticklen:5, tickwidth:1.1, tickcolor:'#222',
    showline:true, mirror:true, linecolor:'#222', linewidth:1.3, showgrid:true, gridcolor:'#e4e4e4', gridwidth:1, zeroline:false,
    tickfont:{family:FONT, size:13.5, color:'#222'}},
  shapes: shapes,
  annotations: annotations
};

Plotly.newPlot('chart', traces, layout, {staticPlot:true, displayModeBar:false});
</script>
</body>
</html>
